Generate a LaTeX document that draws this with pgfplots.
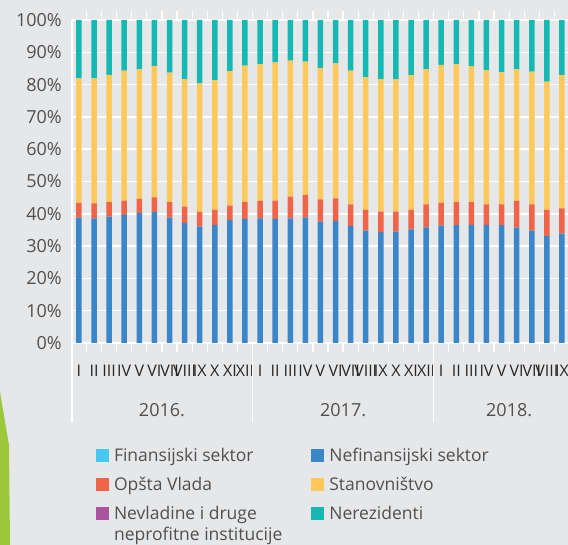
\documentclass[border=0pt]{standalone}
\usepackage{pgfplots}
\pgfplotsset{compat=1.18}
\usepackage{pgfplotstable}
\usepackage{fontspec}
\setmainfont{Open Sans}
\definecolor{bgc}{RGB}{230,231,233}
\definecolor{leaf}{RGB}{156,200,60}
\definecolor{cfin}{RGB}{70,200,240}
\definecolor{cnef}{RGB}{58,134,200}
\definecolor{copv}{RGB}{240,100,74}
\definecolor{csta}{RGB}{255,200,90}
\definecolor{cnev}{RGB}{170,85,160}
\definecolor{cner}{RGB}{22,184,180}
\definecolor{txt}{RGB}{80,80,80}

% shares in %, months 2016 I -- 2018 IX
\pgfplotstableread{
x  fin nef  opv sta  nev ner
0  0   38.8 4.6 38.5 0   18.1
1  0   38.6 4.6 38.7 0   18.1
2  0   39.1 4.5 39.4 0   17.0
3  0   39.7 4.4 40.2 0   15.7
4  0   40.2 4.4 40.1 0   15.3
5  0   40.6 4.5 40.7 0   14.2
6  0   38.8 4.8 40.1 0   16.3
7  0   37.2 5.0 39.5 0   18.3
8  0   36.0 4.6 39.8 0   19.6
9  0   36.5 4.7 40.2 0   18.6
10 0   38.1 4.4 41.7 0   15.8
11 0   38.4 5.2 42.3 0   14.1
12 0   38.6 5.4 42.3 0   13.7
13 0   38.4 5.7 42.8 0   13.1
14 0   38.6 6.7 42.1 0   12.6
15 0   38.8 7.0 41.3 0   12.9
16 0   37.6 6.9 40.7 0   14.8
17 0   37.8 7.0 41.8 0   13.4
18 0   36.2 6.7 41.4 0   15.7
19 0   34.8 6.4 41.1 0   17.7
20 0   34.3 6.4 41.0 0   18.3
21 0   34.5 6.2 40.9 0   18.4
22 0   35.2 6.0 41.7 0   17.1
23 0   35.8 7.1 41.9 0   15.2
24 0   36.3 7.1 42.7 0   13.9
25 0   36.5 7.1 42.7 0   13.7
26 0   36.6 7.0 42.1 0   14.3
27 0   36.5 6.4 41.6 0   15.5
28 0   36.5 6.4 40.9 0   16.2
29 0   35.7 8.3 40.8 0   15.2
30 0   34.8 8.1 41.1 0   16.0
31 0   33.1 8.1 39.7 0   19.1
32 0   33.9 7.8 41.2 0   17.1
}\shares

\pgfplotsset{
  sq/.style={draw=none,fill=#1,
    legend image code/.code={\fill[#1] (0bp,0bp) rectangle (13bp,13bp);}},
}

\begin{document}
\begin{tikzpicture}
\fill[bgc] (0bp,0bp) rectangle (568bp,545bp);
\fill[leaf] (0bp,153bp) -- (9bp,100bp) -- (10bp,0bp) -- (0bp,0bp) -- cycle;
\begin{axis}[
  at={(72bp,202bp)}, anchor=south west, scale only axis,
  width=496bp, height=323bp,
  ybar stacked, bar width=5.5bp,
  xmin=-0.46, xmax=32.4, ymin=0, ymax=100,
  clip=false,
  axis line style={draw=none},
  ymajorgrids, major grid style={white,line width=1.5bp},
  major tick length=0pt,
  ytick={0,10,...,100},
  yticklabel={\pgfmathprintnumber{\tick}\%},
  /pgf/number format/assume math mode=true,
  yticklabel style={font=\fontsize{18bp}{18bp}\selectfont,text=txt,inner sep=0pt,xshift=-10bp},
  xtick={0,...,32},
  xticklabels={I,II,III,IV,V,VI,VII,VIII,IX,X,XI,XII,I,II,III,IV,V,VI,VII,VIII,IX,X,XI,XII,I,II,III,IV,V,VI,VII,VIII,IX},
  xticklabel style={font=\fontsize{16bp}{16bp}\selectfont,text=black!85,inner sep=0pt,anchor=north,yshift=-22bp},
  xtick style={white,line width=1.2bp},
  extra x ticks={0.5,1.5,...,31.5},
  extra x tick labels={},
  extra x tick style={major tick length=9bp,tick align=outside},
  legend columns=2,
  legend cell align=left,
  legend style={at={(axis description cs:0.0484,-0.327)},anchor=north west,
    draw=none,fill=none,inner sep=0pt,outer sep=0pt,
    font=\fontsize{17.5bp}{21bp}\selectfont,text=txt,row sep=12bp,
    nodes={anchor=base west,inner xsep=5bp,inner ysep=0pt,text height=13bp,text depth=4bp},
    /tikz/every even column/.append style={column sep=24bp}},
]
\addplot[sq=cfin] table[x=x,y=fin]{\shares};
\addplot[sq=cnef] table[x=x,y=nef]{\shares};
\addplot[sq=copv] table[x=x,y=opv]{\shares};
\addplot[sq=csta] table[x=x,y=sta]{\shares};
\addplot[sq=cnev] table[x=x,y=nev]{\shares};
\addplot[sq=cner] table[x=x,y=ner]{\shares};
\legend{Finansijski sektor,Nefinansijski sektor,Opšta Vlada,Stanovništvo,{\begin{tabular}[t]{@{}l@{}}Nevladine i druge\\neprofitne institucije\end{tabular}},Nerezidenti}
\draw[white,line width=1.5bp] (rel axis cs:0,1) -- (rel axis cs:0,0) -- ++(0bp,-79bp);
\draw[white,line width=1.5bp] (axis cs:11.5,0) -- ++(0bp,-79bp);
\draw[white,line width=1.5bp] (axis cs:23.5,0) -- ++(0bp,-79bp);
\node[font=\fontsize{18bp}{18bp}\selectfont,text=txt] at (axis cs:5.5,0) [yshift=-67bp] {2016.};
\node[font=\fontsize{18bp}{18bp}\selectfont,text=txt] at (axis cs:17.5,0) [yshift=-67bp] {2017.};
\node[font=\fontsize{18bp}{18bp}\selectfont,text=txt] at (axis cs:28.5,0) [yshift=-67bp] {2018.};
\end{axis}
\pgfresetboundingbox
\useasboundingbox (0bp,0bp) rectangle (568bp,545bp);
\end{tikzpicture}
\end{document}
